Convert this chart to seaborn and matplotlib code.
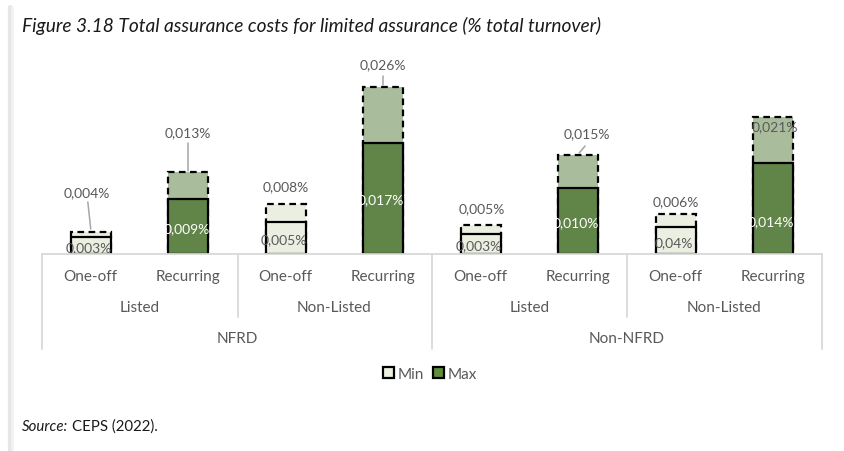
import matplotlib
matplotlib.use("Agg")
from matplotlib import pyplot as plt
from matplotlib.lines import Line2D
from matplotlib.patches import Patch
import matplotlib.transforms as mtrans
import pandas as pd
import seaborn as sns

# data (% of total turnover)
bar_ids = [0, 1, 2, 3, 4, 5, 6, 7]
cost_type = ["One-off", "Recurring"] * 4
listing = ["Listed", "Listed", "Non-Listed", "Non-Listed"] * 2
scope = ["NFRD"] * 4 + ["Non-NFRD"] * 4
min_vals = [0.0026, 0.0086, 0.0050, 0.0173, 0.0031, 0.0103, 0.0042, 0.0142]
max_vals = [0.0035, 0.0128, 0.0078, 0.0261, 0.0045, 0.0155, 0.0063, 0.0214]
min_labels = ["0,003%", "0,009%", "0,005%", "0,017%", "0,003%", "0,010%", "0,04%", "0,014%"]
max_labels = ["0,004%", "0,013%", "0,008%", "0,026%", "0,005%", "0,015%", "0,006%", "0,021%"]

df = pd.DataFrame({"bar": bar_ids, "type": cost_type, "listing": listing,
                   "scope": scope, "min": min_vals, "max": max_vals})

W, H = 845, 452
GREY = "#595959"
LINE = "#D9D9D9"

sns.set_theme(style="white")
plt.rcParams['font.family'] = ['Lato', 'DejaVu Sans']

fig = plt.figure(figsize=(W / 100, H / 100), dpi=100)


def fx(x):
    return x / W


def fy(y):
    return 1 - y / H


# plot area: baseline at y=255px, 6.4px per 0.001
base_px, top_px = 255, 50
ax = fig.add_axes([fx(42), fy(base_px), fx(822) - fx(42), (base_px - top_px) / H])

max_pal = {"One-off": "#EAF1E0", "Recurring": "#A8C296"}
min_pal = {"One-off": "#EAF1E0", "Recurring": "#5F8E3E"}

sns.barplot(data=df, x="bar", y="max", hue="type", palette=max_pal, dodge=False,
            width=0.41, edgecolor="black", linewidth=1.6, linestyle=(0, (3, 2)),
            legend=False, ax=ax)
sns.barplot(data=df, x="bar", y="min", hue="type", palette=min_pal, dodge=False,
            width=0.41, edgecolor="black", linewidth=1.6,
            legend=False, ax=ax)

ax.set_xlim(-0.5, 7.5)
ax.set_ylim(0, (base_px - top_px) / 6400)
ax.set_xticks([])
ax.set_yticks([])
ax.set_xlabel("")
ax.set_ylabel("")
for s in ax.spines.values():
    s.set_visible(False)


def v(py):
    # pixel row -> data value
    return (base_px - py) / 6400


# max value labels (position in px rows) and leader lines
max_lab_y = [193, 133, 187, 65, 209, 134, 202, 127]
max_lab_dx = [-0.04, 0, 0, 0, 0.01, 0.09, 0.0, 0.02]
for i, t in enumerate(max_labels):
    ax.text(i + max_lab_dx[i], v(max_lab_y[i]), t, ha="center", va="center",
            fontsize=10, color=GREY)
leaders = {0: ((-0.03, 203), (0.0, 230)), 1: ((0, 144), (0, 172)),
           3: ((0, 77), (0, 86)), 5: ((0.07, 147), (0.01, 154))}
for i, ((x0, y0), (x1, y1)) in leaders.items():
    ax.plot([i + x0, i + x1], [v(y0), v(y1)], color="#A6A6A6", lw=1.1)

# min value labels
min_lab_y = [248, 229, 240, 200, 246, 223, 243, 222]
for i, t in enumerate(min_labels):
    col = "white" if cost_type[i] == "Recurring" else GREY
    ax.text(i - 0.02, v(min_lab_y[i]), t, ha="center", va="center",
            fontsize=10, color=col)

# multi-level category axis
tr = mtrans.blended_transform_factory(ax.transData, fig.transFigure)
for i, t in enumerate(cost_type):
    fig.text(i, fy(277), t, transform=tr, ha="center", va="center",
             fontsize=11, color=GREY)
for k in range(4):
    fig.text(2 * k + 0.5, fy(308), listing[2 * k], transform=tr, ha="center",
             va="center", fontsize=11, color=GREY)
for k in range(2):
    fig.text(4 * k + 1.5, fy(339), scope[4 * k], transform=tr, ha="center",
             va="center", fontsize=11, color=GREY)

fig.add_artist(Line2D([fx(42), fx(822)], [fy(255), fy(255)], color=LINE, lw=1.3))
for x in [42, 432, 822]:
    fig.add_artist(Line2D([fx(x), fx(x)], [fy(255), fy(350)], color=LINE, lw=1.3))
for x in [238, 627]:
    fig.add_artist(Line2D([fx(x), fx(x)], [fy(255), fy(318)], color=LINE, lw=1.3))

# legend
handles = [Patch(facecolor=min_pal["One-off"], edgecolor="black", linewidth=1.6),
           Patch(facecolor=min_pal["Recurring"], edgecolor="black", linewidth=1.6)]
fig.legend(handles, ["Min", "Max"], loc="center", bbox_to_anchor=(fx(430), fy(375)),
           ncol=2, frameon=False, fontsize=11, labelcolor=GREY,
           handlelength=0.7, handleheight=0.7, handletextpad=0.25, columnspacing=0.6)

# title and source
fig.text(fx(22), fy(26), "Figure 3.18 Total assurance costs for limited assurance (% total turnover)",
         ha="left", va="center", fontsize=13.8, style="italic", color="#1A1A1A")
src = fig.text(fx(22), fy(427), "Source:", ha="left", va="center", fontsize=10.8,
               style="italic", color="#1A1A1A")
fig.canvas.draw()
bb = src.get_window_extent()
fig.text(bb.x1 / W + 0.004, fy(427), "CEPS (2022).", ha="left", va="center",
         fontsize=10.8, color="#1A1A1A")

# page shadow on the left
fig.add_artist(Line2D([fx(10), fx(10)], [fy(8), 0], color="#E6E6E6", lw=3))
fig.add_artist(Line2D([fx(12), fx(12)], [fy(8), 0], color="#F2F2F2", lw=2))

fig.savefig("out.png", dpi=100)
